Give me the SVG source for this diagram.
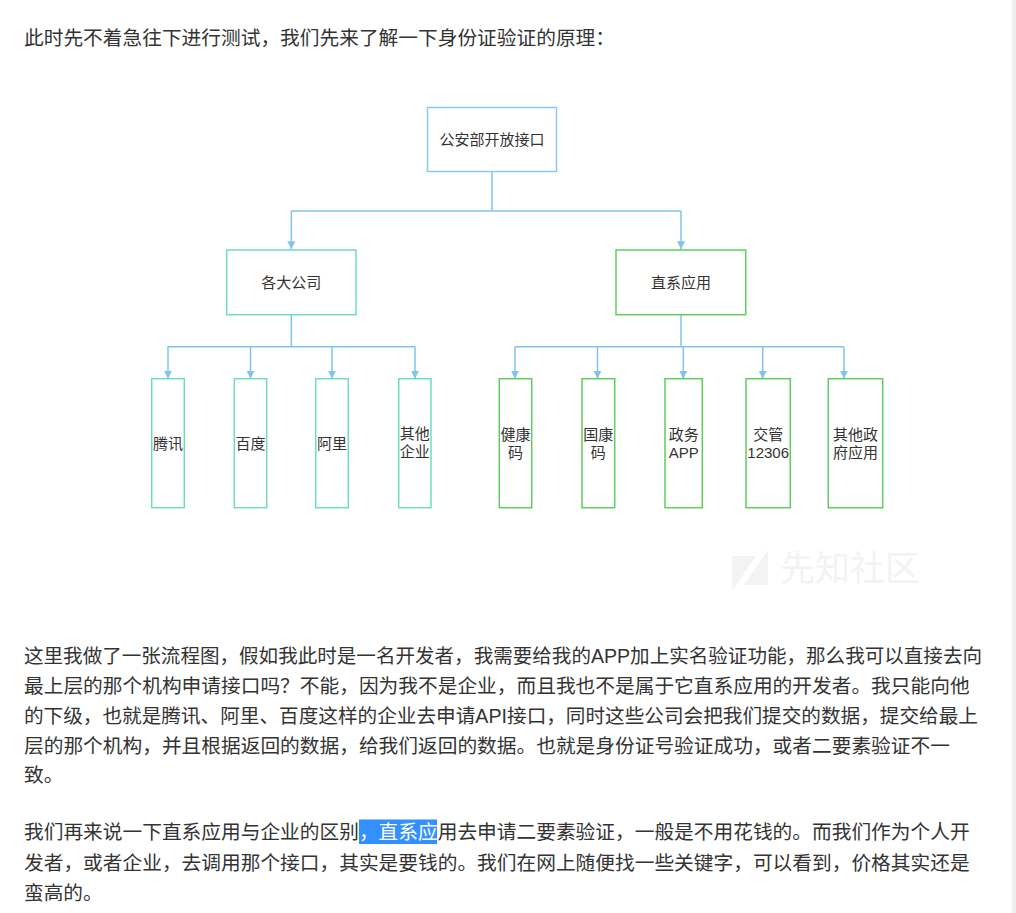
<svg xmlns="http://www.w3.org/2000/svg" width="1016" height="913" viewBox="0 0 1016 913">
<style>
.body{font-family:"Liberation Sans","Noto Sans CJK SC",sans-serif;font-size:19.7px;fill:#333333;}
.nt{font-family:"Liberation Sans","Noto Sans CJK SC",sans-serif;font-size:15px;fill:#333333;text-anchor:middle;}
.top{fill:#ffffff;stroke:#8ccbef;stroke-width:1.5;}
.co{fill:#ffffff;stroke:#6fdcbf;stroke-width:1.5;}
.gr{fill:#ffffff;stroke:#62cb5e;stroke-width:1.5;}
.ln{fill:none;stroke:#80c4ec;stroke-width:1.5;}
.wm{fill:#f3f3f3;}
</style>
<defs>
<marker id="ah" viewBox="0 0 10 10" refX="10" refY="5" markerWidth="8" markerHeight="8" markerUnits="userSpaceOnUse" orient="auto">
<path d="M0,0 L10,5 L0,10 Z" fill="#80c4ec"/>
</marker>
</defs>
<rect x="0" y="0" width="1016" height="913" fill="#ffffff"/>
<rect x="1011.7" y="0" width="4.3" height="913" fill="#eeeeee"/>

<text class="body" x="24" y="45" textLength="591" lengthAdjust="spacingAndGlyphs">此时先不着急往下进行测试，我们先来了解一下身份证验证的原理：</text>

<g id="watermark">
<polygon class="wm" points="732,556 756,556 732,591"/>
<polygon class="wm" points="768,550 768,585 744,585"/>
<text x="780" y="581" style="font-family:'Noto Sans CJK SC',sans-serif;font-size:35px;fill:#f3f3f3;">先知社区</text>
</g>

<g id="connectors">
<path class="ln" d="M492,172 V211"/>
<path class="ln" d="M291.3,211 H681"/>
<path class="ln" d="M291.3,211 V249.3" marker-end="url(#ah)"/>
<path class="ln" d="M681,211 V249.3" marker-end="url(#ah)"/>
<path class="ln" d="M291.3,314.7 V346.7"/>
<path class="ln" d="M167.5,346.7 H415"/>
<path class="ln" d="M168,346.7 V378.7" marker-end="url(#ah)"/>
<path class="ln" d="M250.5,346.7 V378.7" marker-end="url(#ah)"/>
<path class="ln" d="M332,346.7 V378.7" marker-end="url(#ah)"/>
<path class="ln" d="M415,346.7 V378.7" marker-end="url(#ah)"/>
<path class="ln" d="M681,314.7 V346.7"/>
<path class="ln" d="M515,346.7 H844"/>
<path class="ln" d="M515,346.7 V378.7" marker-end="url(#ah)"/>
<path class="ln" d="M597.5,346.7 V378.7" marker-end="url(#ah)"/>
<path class="ln" d="M683.3,346.7 V378.7" marker-end="url(#ah)"/>
<path class="ln" d="M762.7,346.7 V378.7" marker-end="url(#ah)"/>
<path class="ln" d="M844,346.7 V378.7" marker-end="url(#ah)"/>
</g>

<g id="node-gonganbu">
<rect class="top" x="427.5" y="107.5" width="129" height="64"/>
<text class="nt" x="492" y="145.4">公安部开放接口</text>
</g>
<g id="node-gedagongsi">
<rect class="co" x="226.7" y="250" width="129.3" height="64.7"/>
<text class="nt" x="291.3" y="288">各大公司</text>
</g>
<g id="node-zhixiyingyong">
<rect class="gr" x="616" y="250" width="129.7" height="64.7"/>
<text class="nt" x="680.9" y="288">直系应用</text>
</g>

<g id="node-tengxun">
<rect class="co" x="151.7" y="378.7" width="32.6" height="129"/>
<text class="nt" x="168" y="449.4">腾讯</text>
</g>
<g id="node-baidu">
<rect class="co" x="234.3" y="378.7" width="32.4" height="129"/>
<text class="nt" x="250.5" y="449.4">百度</text>
</g>
<g id="node-ali">
<rect class="co" x="315.7" y="378.7" width="32.6" height="129"/>
<text class="nt" x="332" y="449.4">阿里</text>
</g>
<g id="node-qitaqiye">
<rect class="co" x="398.7" y="378.7" width="32.3" height="129"/>
<text class="nt" x="414.85" y="439.4">其他</text>
<text class="nt" x="414.85" y="457.4">企业</text>
</g>

<g id="node-jiankangma">
<rect class="gr" x="499.3" y="378.7" width="32.4" height="129"/>
<text class="nt" x="515.5" y="439.7">健康</text>
<text class="nt" x="515.5" y="457.7">码</text>
</g>
<g id="node-guokangma">
<rect class="gr" x="582" y="378.7" width="32.7" height="129"/>
<text class="nt" x="598.3" y="439.7">国康</text>
<text class="nt" x="598.3" y="457.7">码</text>
</g>
<g id="node-zhengwu">
<rect class="gr" x="665" y="378.7" width="37.3" height="129"/>
<text class="nt" x="683.7" y="439.7">政务</text>
<text class="nt" x="683.7" y="457.7">APP</text>
</g>
<g id="node-jiaoguan">
<rect class="gr" x="746" y="378.7" width="44.3" height="129"/>
<text class="nt" x="768.2" y="439.7">交管</text>
<text class="nt" x="768.2" y="457.7">12306</text>
</g>
<g id="node-qitazhengfu">
<rect class="gr" x="828.3" y="378.7" width="54.4" height="129"/>
<text class="nt" x="855.5" y="439.7">其他政</text>
<text class="nt" x="855.5" y="457.7">府应用</text>
</g>

<text class="body" x="24" y="663.1" textLength="958" lengthAdjust="spacingAndGlyphs">这里我做了一张流程图，假如我此时是一名开发者，我需要给我的APP加上实名验证功能，那么我可以直接去向</text>
<text class="body" x="24" y="692.9" textLength="945.6" lengthAdjust="spacingAndGlyphs">最上层的那个机构申请接口吗？不能，因为我不是企业，而且我也不是属于它直系应用的开发者。我只能向他</text>
<text class="body" x="24" y="722.7" textLength="954" lengthAdjust="spacingAndGlyphs">的下级，也就是腾讯、阿里、百度这样的企业去申请API接口，同时这些公司会把我们提交的数据，提交给最上</text>
<text class="body" x="24" y="752.5" textLength="925.9" lengthAdjust="spacingAndGlyphs">层的那个机构，并且根据返回的数据，给我们返回的数据。也就是身份证号验证成功，或者二要素验证不一</text>
<text class="body" x="24" y="782.3">致。</text>

<rect x="359" y="819.5" width="78" height="24.5" fill="#3390ff"/>
<text class="body" x="24" y="839" textLength="945.6" lengthAdjust="spacingAndGlyphs">我们再来说一下直系应用与企业的区别<tspan fill="#ffffff">，直系应</tspan>用去申请二要素验证，一般是不用花钱的。而我们作为个人开</text>
<text class="body" x="24" y="869.5" textLength="945.6" lengthAdjust="spacingAndGlyphs">发者，或者企业，去调用那个接口，其实是要钱的。我们在网上随便找一些关键字，可以看到，价格其实还是</text>
<text class="body" x="24" y="900">蛮高的。</text>
</svg>
